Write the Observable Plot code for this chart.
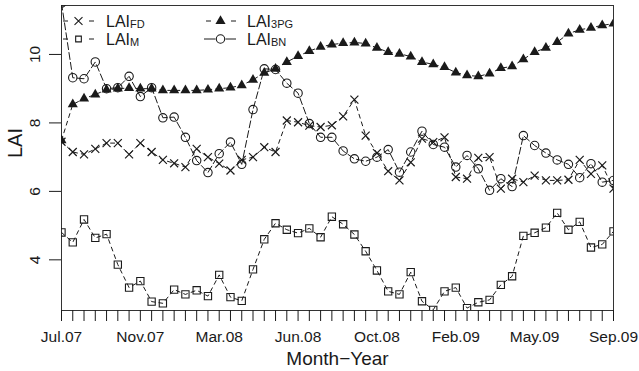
<!DOCTYPE html>
<html>
<head>
<meta charset="utf-8">
<script src="https://cdn.jsdelivr.net/npm/d3@7"></script>
<script src="https://cdn.jsdelivr.net/npm/@observablehq/plot@0.6"></script>
<style>
  html, body { margin: 0; padding: 0; background: #fff; }
  svg { display: block; }
</style>
</head>
<body>
<div id="chart"></div>
<script>
// ---- data (16-day composites, index 0..49) ----
const xTickLabels = ["Jul.07", "Nov.07", "Mar.08", "Jun.08", "Oct.08", "Feb.09", "May.09", "Sep.09"];
const yTicks = [4, 6, 8, 10];

const laiFD = [7.45, 7.15, 7.08, 7.24, 7.41, 7.41, 7.08, 7.41, 7.15, 6.92,
               6.82, 6.71, 7.24, 7.00, 6.81, 6.61, 6.92, 7.00, 7.29, 7.15,
               8.07, 8.02, 7.92, 7.88, 7.93, 8.19, 8.68, 7.63, 7.12, 6.59,
               6.32, 6.85, 7.54, 7.44, 7.58, 6.42, 6.37, 6.98, 7.00, 6.08,
               6.37, 6.27, 6.46, 6.32, 6.32, 6.34, 6.92, 6.51, 6.76, 6.08];

const laiM = [4.80, 4.51, 5.18, 4.64, 4.75, 3.86, 3.19, 3.38, 2.78, 2.73,
              3.13, 2.99, 3.11, 2.94, 3.56, 2.91, 2.80, 3.72, 4.60, 5.07,
              4.88, 4.78, 4.92, 4.66, 5.26, 5.04, 4.74, 4.25, 3.69, 3.08,
              2.99, 3.64, 2.79, 2.54, 3.08, 3.19, 2.59, 2.76, 2.83, 3.27,
              3.52, 4.70, 4.79, 4.94, 5.37, 4.88, 5.11, 4.36, 4.45, 4.83];

const lai3PG = [7.49, 8.54, 8.71, 8.83, 8.97, 9.00, 9.02, 9.00, 9.00, 8.95,
                8.95, 8.95, 8.95, 8.97, 9.00, 9.03, 9.10, 9.26, 9.46, 9.58,
                9.78, 9.95, 10.10, 10.22, 10.29, 10.33, 10.35, 10.32, 10.19, 10.07,
                10.02, 9.94, 9.78, 9.71, 9.63, 9.47, 9.39, 9.36, 9.44, 9.60,
                9.65, 9.86, 10.07, 10.19, 10.36, 10.61, 10.72, 10.78, 10.85, 10.90];

const laiBN = [11.50, 9.32, 9.29, 9.78, 9.00, 9.03, 9.36, 8.77, 9.03, 8.15,
               8.17, 7.58, 6.90, 6.55, 7.10, 7.44, 6.79, 8.39, 9.58, 9.56,
               9.16, 8.87, 7.98, 7.58, 7.58, 7.18, 6.95, 6.88, 7.00, 7.22,
               6.56, 7.15, 7.76, 7.37, 7.29, 6.71, 7.05, 6.66, 6.03, 6.37,
               6.14, 7.63, 7.34, 7.12, 6.92, 6.79, 6.40, 6.81, 6.27, 6.32];

const toRows = arr => arr.map((v, i) => ({i, v}));
const rowsFD = toRows(laiFD), rowsM = toRows(laiM), rows3PG = toRows(lai3PG), rowsBN = toRows(laiBN);
const idx = d3.range(laiM.length);

const ink = "#1a1a1a";
const font = "'Liberation Sans', Arial, Helvetica, sans-serif";

const chart = Plot.plot({
  width: 639,
  height: 371,
  marginLeft: 61,
  marginRight: 26,
  marginTop: 5,
  marginBottom: 61,
  x: {domain: [0, 49]},
  y: {domain: [2.52, 11.43]},
  style: {fontFamily: font, color: ink, background: "#fff", overflow: "visible"},
  marks: [
    Plot.frame({stroke: "#333", strokeWidth: 1}),
    Plot.axisX({ticks: idx, tickSize: 11, tickPadding: 9, fontSize: 15.5, label: null,
                tickFormat: d => (d % 7 === 0 ? xTickLabels[d / 7] : "")}),
    Plot.axisY({ticks: yTicks, tickSize: 12, tickFormat: () => "", label: null}),
    Plot.text(yTicks, {y: d => d, text: d => String(d), frameAnchor: "left", dx: -26,
                       rotate: -90, textAnchor: "middle", lineAnchor: "middle", fontSize: 15.5, fill: ink}),
    Plot.text(["Month\u2212Year"], {text: d => d, frameAnchor: "bottom", dy: 48,
                       lineAnchor: "middle", fontSize: 19, fill: ink}),
    Plot.text(["LAI"], {text: d => d, frameAnchor: "left", dx: -46, rotate: -90,
                       lineAnchor: "middle", fontSize: 20, fill: ink}),
    // series
    Plot.line(rowsM, {x: "i", y: "v", stroke: ink, strokeWidth: 1, strokeDasharray: "4,4", clip: true}),
    Plot.dot(rowsM, {x: "i", y: "v", symbol: "square", r: 4.1, fill: "none", stroke: ink, strokeWidth: 1.1, clip: true}),
    Plot.line(rows3PG, {x: "i", y: "v", stroke: ink, strokeWidth: 1, strokeDasharray: "4,4", clip: true}),
    Plot.dot(rows3PG, {x: "i", y: "v", symbol: "triangle", r: 3.75, fill: ink, stroke: "none", clip: true}),
    Plot.line(rowsFD, {x: "i", y: "v", stroke: ink, strokeWidth: 1, strokeDasharray: "4,4", clip: true}),
    Plot.dot(rowsFD, {x: "i", y: "v", symbol: "times", r: 3.7, fill: "none", stroke: ink, strokeWidth: 1.2, clip: true}),
    Plot.line(rowsBN, {x: "i", y: "v", stroke: ink, strokeWidth: 1, strokeDasharray: "7,3", clip: true}),
    Plot.dot(rowsBN, {x: "i", y: "v", symbol: "circle", r: 4.2, fill: "none", stroke: ink, strokeWidth: 1.1, clip: true})
  ]
});

// ---- legend inside the plot, top-left ----
const svg = d3.select(chart);
const leg = svg.append("g").attr("font-family", font).attr("fill", ink).attr("text-anchor", "start");
const items = [
  {name: "FD",  sym: d3.symbolTimes,    r: 3.7,  fill: "none", segs: [[63, 68], [89, 94]],   mx: 78.5,  tx: 106, row: 0},
  {name: "M",   sym: d3.symbolSquare,   r: 3.2,  fill: "none", segs: [[63, 68], [89, 94]],   mx: 78.5,  tx: 106, row: 1},
  {name: "3PG", sym: d3.symbolTriangle, r: 3.75, fill: ink,    segs: [[206, 211], [231, 236]], mx: 220.5, tx: 247, row: 0},
  {name: "BN",  sym: d3.symbolCircle,   r: 4.2,  fill: "none", segs: [[204, 215.5], [225.5, 236]], mx: 220.5, tx: 247, row: 1}
];
const rowY = [21, 39], rowBase = [27, 45];
for (const it of items) {
  const y = rowY[it.row];
  for (const [a, b] of it.segs) {
    leg.append("line").attr("x1", a).attr("x2", b).attr("y1", y).attr("y2", y)
       .attr("stroke", ink).attr("stroke-width", 1);
  }
  leg.append("path")
     .attr("d", d3.symbol(it.sym, Math.PI * it.r * it.r)())
     .attr("transform", `translate(${it.mx},${y})`)
     .attr("fill", it.fill)
     .attr("stroke", it.fill === "none" ? ink : "none")
     .attr("stroke-width", 1.1);
  const t = leg.append("text").attr("x", it.tx).attr("y", rowBase[it.row])
     .attr("font-size", 16).attr("text-anchor", "start");
  t.append("tspan").text("LAI");
  t.append("tspan").attr("font-size", 11).attr("dy", 0.5).text(it.name);
}

document.getElementById("chart").appendChild(chart);
</script>
</body>
</html>
